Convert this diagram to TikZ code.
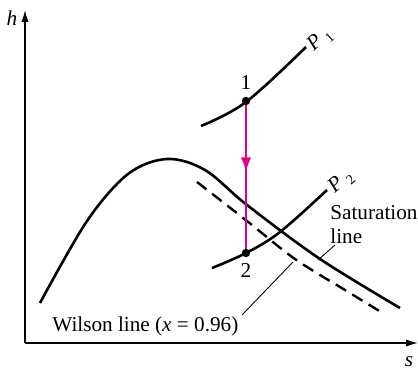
\documentclass[tikz,border=0pt]{standalone}
\usepackage{fontspec}
\setmainfont{Liberation Serif}
\usetikzlibrary{arrows.meta,decorations.markings}
\definecolor{mag}{RGB}{228,0,130}
\begin{document}
\begin{tikzpicture}[x=0.5pt,y=-0.5pt,
  every node/.style={font=\fontsize{10.6}{12}\selectfont, inner sep=0pt},
  axis/.style={line width=0.7pt, -{Latex[length=6pt,width=3.6pt]}},
  curve/.style={line width=1.3pt},
  wilson/.style={line width=1.2pt, dash pattern=on 6pt off 3.6pt},
  leader/.style={line width=0.45pt},
  proc/.style={mag, line width=1.3pt, postaction={decorate},
    decoration={markings, mark=at position 0.47 with {\arrow{Latex[length=7.5pt,width=5.2pt]}}}},
  dot/.style={circle, fill=black, minimum size=4.2pt, inner sep=0pt}]
\useasboundingbox (0,0) rectangle (418,370);
% axes
\coordinate (O) at (25,343);
\coordinate (ytop) at (25,10);
\coordinate (xend) at (418,343);
\draw[axis] (O) -- (ytop);
\draw[axis] (O) -- (xend);
\node (hlab) at (12,18) {\textit{h}};
\node (slab) at (409,362) {\textit{s}};
% saturation line
\draw[curve] plot[smooth, tension=0.55] coordinates {(40,303) (87,221) (128,174) (167,159) (205,170) (247,205) (320,259) (400,308)};
% Wilson line
\draw[wilson] plot[smooth, tension=0.55] coordinates {(197,182) (247,221) (295,259) (345,290) (381,312)};
% isobars
\draw[curve] plot[smooth, tension=0.6] coordinates {(201,126) (246,102) (306,47)};
\draw[curve] plot[smooth, tension=0.6] coordinates {(212,268) (246,253) (280,232) (327,190)};
% process line, then states
\coordinate (c1) at (246,101);
\coordinate (c2) at (246,253);
\draw[proc] (c1) -- (c2);
\node[dot] (s1) at (c1) {};
\node[dot] (s2) at (c2) {};
\node (l1) at (246,83) {1};
\node (l2) at (246,270) {2};
% pressure labels
\node[rotate=42] (P1) at (320,40) {\textit{P}\hspace{2.5pt}\raisebox{-0.45ex}{\scriptsize 1}};
\node[rotate=42] (P2) at (341,182) {\textit{P}\hspace{2.5pt}\raisebox{-0.45ex}{\scriptsize 2}};
% labels
\node[anchor=west, align=left] (sat) at (330,225) {Saturation\\line};
\node[anchor=west] (wil) at (52,326) {Wilson line (\textit{x} = 0.96)};
\coordinate (satA) at (335,245);
\coordinate (satB) at (318,260);
\coordinate (wilA) at (242,315);
\coordinate (wilB) at (293,262);
\draw[leader] (satA) -- (satB);
\draw[leader] (wilA) -- (wilB);
\end{tikzpicture}
\end{document}
